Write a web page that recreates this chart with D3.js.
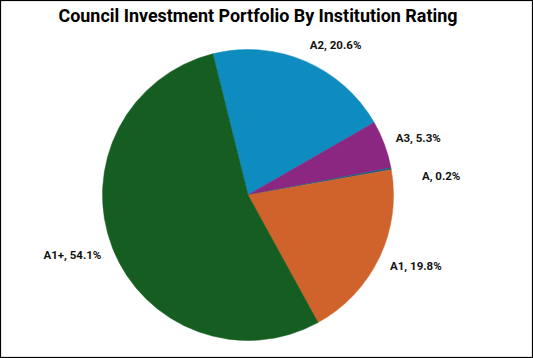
<!DOCTYPE html>
<html lang="en">
<head>
  <meta charset="UTF-8" />
  <title>Council Investment Portfolio By Institution Rating</title>
  <style>
    body {
      margin: 0;
      background: #fff;
    }
    #chart svg {
      display: block;
    }
    .title {
      font-family: "Liberation Sans Narrow", "Roboto", sans-serif;
      font-weight: bold;
      font-size: 18px;
      fill: #000;
    }
    .label {
      font-family: "Liberation Sans Narrow", "Roboto", sans-serif;
      font-weight: bold;
      font-size: 11.5px;
      fill: #111;
    }
  </style>
</head>
<body>
  <div id="chart"></div>

  <script src="https://d3js.org/d3.v7.min.js"></script>
  <script>
    // clockwise from the A2 slice
    const ratings = ["A2", "A3", "A", "A1", "A1+"];
    const shares = [20.6, 5.3, 0.2, 19.8, 54.1];
    const colours = ["#0e8bbf", "#8b2781", "#1f5e80", "#d0632b", "#155d20"];

    const W = 533, H = 358;
    const cx = 248, cy = 195, r = 145.5;
    const startDeg = -14;
    // A is a sliver, its label gets pushed out
    const nudge = {"A": [19, 10]};

    const data = ratings.map((k, i) => ({rating: k, value: shares[i], colour: colours[i]}));

    const svg = d3.select("#chart")
      .append("svg")
        .attr("width", W)
        .attr("height", H);

    svg.append("rect")
      .attr("x", 0.5).attr("y", 0.5)
      .attr("width", W - 1).attr("height", H - 1)
      .attr("fill", "#fff")
      .attr("stroke", "#000")
      .attr("stroke-width", 1.2);

    svg.append("text")
      .attr("class", "title")
      .attr("x", 258)
      .attr("y", 22)
      .attr("text-anchor", "middle")
      .attr("textLength", 399)
      .attr("lengthAdjust", "spacingAndGlyphs")
      .text("Council Investment Portfolio By Institution Rating");

    const a0 = startDeg * Math.PI / 180;
    const pie = d3.pie()
      .value(d => d.value)
      .sort(null)
      .startAngle(a0)
      .endAngle(a0 + 2 * Math.PI);

    const arc = d3.arc().innerRadius(0).outerRadius(r);

    const g = svg.append("g")
      .attr("transform", `translate(${cx},${cy})`);

    const arcs = pie(data);

    g.selectAll("path")
      .data(arcs)
      .enter()
      .append("path")
        .attr("d", arc)
        .attr("fill", d => d.data.colour)
        .attr("stroke", d => d.data.colour)
        .attr("stroke-width", 0.5);

    const R = r + 12;
    g.selectAll("text")
      .data(arcs)
      .enter()
      .append("text")
        .attr("class", "label")
        .attr("dominant-baseline", "central")
        .attr("text-anchor", d => {
          const m = (d.startAngle + d.endAngle) / 2;
          return Math.sin(m) >= 0 ? "start" : "end";
        })
        .attr("x", d => {
          const m = (d.startAngle + d.endAngle) / 2;
          const n = nudge[d.data.rating] || [0, 0];
          return R * Math.sin(m) + n[0];
        })
        .attr("y", d => {
          const m = (d.startAngle + d.endAngle) / 2;
          const n = nudge[d.data.rating] || [0, 0];
          return -R * Math.cos(m) - 6 * Math.cos(m) + n[1];
        })
        .text(d => `${d.data.rating}, ${d.data.value.toFixed(1)}%`);
  </script>
</body>
</html>
